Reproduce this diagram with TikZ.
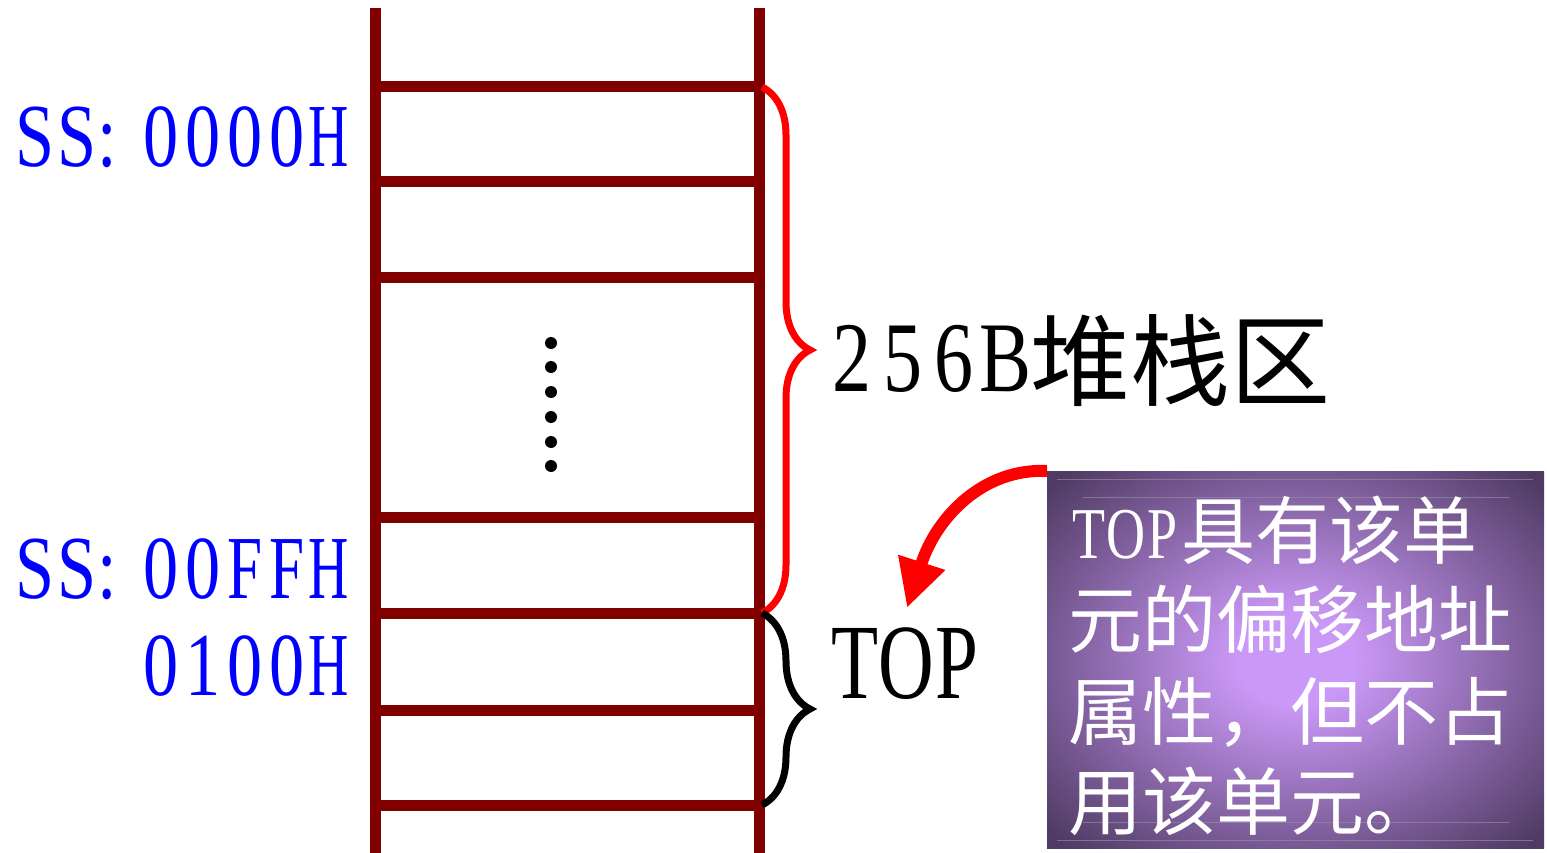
\documentclass[tikz,border=0pt]{standalone}
\usepackage{fontspec}
\usepackage{graphicx}
\setmainfont{Liberation Serif}
\newfontfamily\cjk{Noto Sans CJK SC}
\usetikzlibrary{arrows.meta,decorations.pathreplacing}
% half-width cells: #1 cell width, #2 horizontal scale, #3 characters
\newcommand\monoset[3]{\def\mcw{#1}\def\msx{#2}\monoloop#3\relax}
\def\monoloop#1{\ifx#1\relax\else\makebox[\mcw][c]{\scalebox{\msx}[1]{#1}}\expandafter\monoloop\fi}
\definecolor{ladder}{HTML}{800000}
\definecolor{lblue}{HTML}{0000FF}
\definecolor{glowin}{RGB}{202,152,246}
\definecolor{glowout}{RGB}{78,58,98}
\definecolor{rule}{RGB}{150,135,165}
\pgfdeclareradialshading{glow}{\pgfpoint{0bp}{0bp}}{color(0bp)=(glowin); color(6bp)=(glowin); color(34bp)=(glowout); color(50bp)=(glowout)}
\begin{document}
\begin{tikzpicture}[x=1pt,y=-1pt,
  rung/.style={draw=ladder,line width=11pt},
  rail/.style={draw=ladder,line width=11pt},
  addr/.style={text=lblue,inner sep=0pt,anchor=base east,font=\fontsize{90}{90}\selectfont},
  bigbrace/.style={decorate,decoration={brace,amplitude=48pt},line width=7pt},
  intext/.style={text=white,inner sep=0pt,anchor=base west,font=\fontsize{74}{74}\selectfont\cjk},
  callout/.style={draw=red,line width=12pt,-{Triangle[length=48pt,width=46pt]}}
]
\useasboundingbox (0,0) rectangle (1547,853);
% rails
\draw[rail] (375,8) -- (375,853);
\draw[rail] (759,8) -- (759,853);
% rungs
\foreach \yy in {87,182,277,517,613,710,805}
  \draw[rung] (375,\yy) -- (759,\yy);
% dots
\foreach \yy in {343,367,392,417,442,466}
  \fill (551,\yy) circle (6pt);
% address labels
\node[addr] (ss0) at (350,167) {\monoset{42pt}{0.78}{SS}\scalebox{0.78}[1]{:} \monoset{42pt}{0.78}{0000}\monoset{42pt}{0.62}{H}};
\node[addr] (ssff) at (350,598) {\monoset{42pt}{0.78}{SS}\scalebox{0.78}[1]{:} \monoset{42pt}{0.78}{00}\monoset{42pt}{0.7}{FF}\monoset{42pt}{0.62}{H}};
\node[addr] (top0) at (350,695) {\monoset{42pt}{0.78}{0100}\monoset{42pt}{0.62}{H}};
% braces
\coordinate (b1s) at (762,87);
\coordinate (b1e) at (762,613);
\coordinate (b2s) at (762,613);
\coordinate (b2e) at (762,805);
\draw[bigbrace,red] (b1s) -- (b1e);
\draw[bigbrace,black] (b2s) -- (b2e);
% brace labels
\node[inner sep=0pt,anchor=base west,font=\fontsize{100}{100}\selectfont] (stack) at (826.5,391)
  {\monoset{51pt}{0.78}{256B}\raisebox{-7pt}{\cjk 堆栈区}};
\node[inner sep=0pt,anchor=base west,font=\fontsize{107}{107}\selectfont] (toplbl) at (829.5,698)
  {\monoset{51pt}{0.72}{TOP}};
% callout box
\node[minimum width=497pt,minimum height=377pt,anchor=north west,inner sep=0pt,
  shade,shading=glow] (box) at (1047,471) {};
\draw[rule,line width=1pt,opacity=0.7] (1057,479) -- (1533,479);
\draw[rule,line width=1pt,opacity=0.7] (1083,497) -- (1510,497);
\draw[rule,line width=1pt,opacity=0.7] (1083,822) -- (1510,822);
\draw[rule,line width=1pt,opacity=0.7] (1057,840) -- (1533,840);
\node[intext] (l1) at (1070,558) {{\fontsize{73}{73}\selectfont\rmfamily\monoset{37pt}{0.74}{TOP}}具有该单};
\node[intext] (l2) at (1068,647) {元的偏移地址};
\node[intext] (l3) at (1068,739) {属性，但不占};
\node[intext] (l4) at (1068,829) {用该单元。};
% arrow
\coordinate (tip) at (907,608);
\draw[callout] (box.north west) .. controls (985,468) and (937,515) .. (tip);
\end{tikzpicture}
\end{document}
